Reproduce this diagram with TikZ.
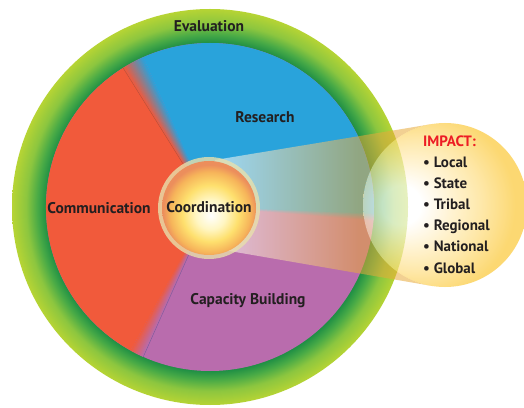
\documentclass[tikz,border=0pt]{standalone}
\usepackage{fontspec}
\setmainfont{PT Sans}
\definecolor{txt}{RGB}{35,31,32}
\definecolor{impred}{RGB}{237,28,36}
\definecolor{redC}{RGB}{241,90,59}
\definecolor{blueC}{RGB}{41,163,219}
\definecolor{purpleC}{RGB}{185,108,173}
\definecolor{redline}{RGB}{180,80,58}
\definecolor{purpline}{RGB}{122,90,154}
\definecolor{ringD}{RGB}{31,143,69}
\definecolor{ringM1}{RGB}{72,170,70}
\definecolor{ringM2}{RGB}{140,198,63}
\definecolor{ringL}{RGB}{182,212,52}
\definecolor{beamO}{RGB}{232,170,58}
\definecolor{impCream}{RGB}{255,238,190}
\definecolor{impMid}{RGB}{254,222,130}
\definecolor{impGold}{RGB}{252,198,48}
\definecolor{coY1}{RGB}{255,246,195}
\definecolor{coY2}{RGB}{254,224,110}
\definecolor{coO1}{RGB}{246,180,90}
\definecolor{coO2}{RGB}{236,142,92}
\definecolor{rimC}{RGB}{232,224,172}
\pgfdeclareradialshading{ringshade}{\pgfpoint{0bp}{0bp}}{color(0bp)=(ringD); color(20.7bp)=(ringD); color(21.8bp)=(ringM1); color(23.2bp)=(ringM2); color(25bp)=(ringL); color(50bp)=(ringL)}
\pgfdeclarehorizontalshading{beamshade}{100bp}{color(0bp)=(white); color(27bp)=(white); color(58bp)=(beamO); color(100bp)=(beamO)}
\pgfdeclareradialshading{impactshade}{\pgfpoint{-15bp}{0bp}}{color(0bp)=(white); color(6bp)=(white); color(13bp)=(impCream); color(20bp)=(impMid); color(28bp)=(impGold); color(50bp)=(impGold)}
\pgfdeclareradialshading{coordshade}{\pgfpoint{1bp}{-4bp}}{color(0bp)=(white); color(8bp)=(coY1); color(15bp)=(coY2); color(21.5bp)=(coO1); color(25bp)=(coO2); color(50bp)=(coO2)}
\begin{document}
\begin{tikzpicture}[x=1pt,y=1pt,
  lbl/.style={font=\fontsize{15.5}{18}\selectfont\bfseries, text=txt, inner sep=0pt},
  ilbl/.style={font=\fontsize{15}{18}\selectfont\bfseries, text=txt, inner sep=0pt, anchor=base west}]
\useasboundingbox (0,0) rectangle (524,407);
\fill[white] (0,0) rectangle (524,407);
\coordinate (C) at (210,200);
\coordinate (K) at (209,199);
\coordinate (I) at (445,202);
% green ring
\shade[shading=ringshade] (C) circle[radius=198];
% sectors
\fill[purpleC] (C) circle[radius=164];
\fill[blueC] (C) -- ++(-2.5:164) arc[start angle=-2.5, end angle=114, radius=164] -- cycle;
\fill[redC] (C) -- ++(122:164) arc[start angle=122, end angle=241, radius=164] -- cycle;
% blends
\foreach \i in {0,...,31}{
  \pgfmathsetmacro\a{114+\i*0.25}
  \pgfmathtruncatemacro\p{\i*100/31}
  \fill[redC!\p!blueC] (C) -- ++(\a:164) arc[start angle=\a, end angle=\a+0.35, radius=164] -- cycle;
}
\foreach \i in {0,...,19}{
  \pgfmathsetmacro\a{241+\i*0.25}
  \pgfmathtruncatemacro\p{\i*100/19}
  \fill[purpleC!\p!redC] (C) -- ++(\a:164) arc[start angle=\a, end angle=\a+0.35, radius=164] -- cycle;
}
\foreach \i in {0,...,11}{
  \pgfmathsetmacro\a{-5+\i*0.25}
  \pgfmathtruncatemacro\p{\i*100/11}
  \fill[blueC!\p!purpleC] (C) -- ++(\a:164) arc[start angle=\a, end angle=\a+0.35, radius=164] -- cycle;
}
\draw[redline, line width=0.4pt] (C) -- ++(122:164);
\draw[purpline, line width=0.4pt] (C) -- ++(246:164);
% beam
\shade[shading=beamshade, fill opacity=0.55] (215,247) -- ([shift={(I)}]99.8:82) arc[start angle=99.8, end angle=260.5, radius=82] -- (215,158.5) -- cycle;
% impact circle
\shade[shading=impactshade, fill opacity=0.68] (I) circle[radius=82];
% coordination
\fill[rimC, fill opacity=0.8] (K) circle[radius=51];
\shade[shading=coordshade] (K) circle[radius=47];
% labels
\node[lbl] (eval) at (209,381) {Evaluation};
\node[lbl] (res) at (265,290) {Research};
\node[lbl] (comm) at (99,199) {Communication};
\node[lbl] (coord) at (209,200) {Coordination};
\node[lbl] (cap) at (248,106) {Capacity Building};
\node[ilbl, text=impred] (imp) at (423,260) {IMPACT:};
\node[ilbl] (l1) at (423,239) {• Local};
\node[ilbl] (l2) at (423,218) {• State};
\node[ilbl] (l3) at (423,197) {• Tribal};
\node[ilbl] (l4) at (423,176) {• Regional};
\node[ilbl] (l5) at (423,155) {• National};
\node[ilbl] (l6) at (423,134) {• Global};
\end{tikzpicture}
\end{document}
